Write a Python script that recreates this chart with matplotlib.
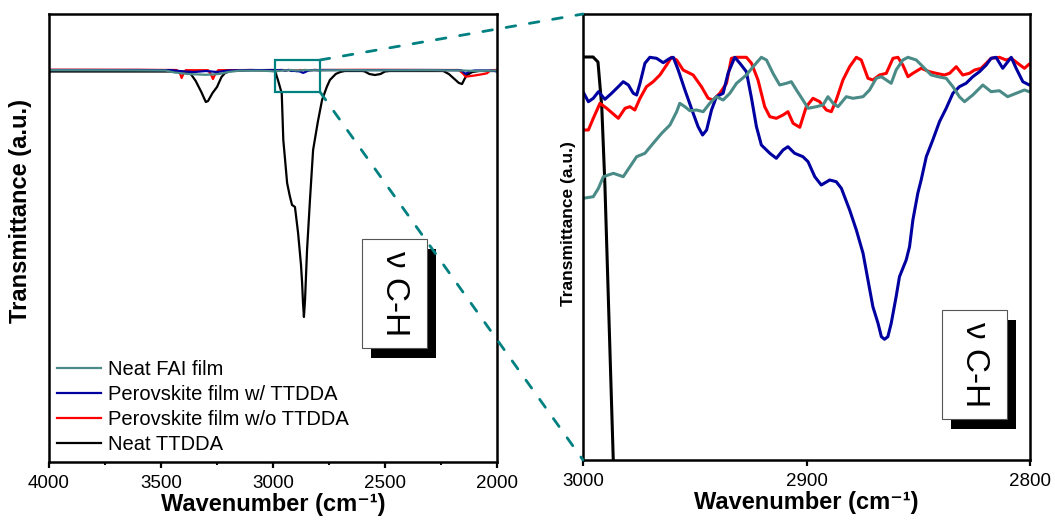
import numpy as np
import matplotlib
matplotlib.use('Agg')
import matplotlib.pyplot as plt
from matplotlib.patches import Rectangle, ConnectionPatch

plt.rcParams['font.family'] = ['Liberation Sans', 'DejaVu Sans']

# ---- data (wavenumber in cm-1, transmittance in arbitrary units) ----
# detailed points in the 3000-2800 window, sparse elsewhere
fai_wn = [4000, 3700, 3480, 3440, 3380, 3300, 3240, 3200, 3150, 3050, 3010,
          3000.0, 2995.4, 2993.1, 2990.9, 2986.4, 2982.0, 2979.0, 2976.0, 2972.3, 2968.6,
          2964.8, 2961.1, 2958.1, 2956.7, 2954.4, 2952.2, 2949.2, 2946.2, 2943.3, 2940.3,
          2937.3, 2934.3, 2931.3, 2926.9, 2923.9, 2920.2, 2917.9, 2915.0, 2912.0, 2909.0,
          2906.8, 2904.5, 2901.6, 2899.3, 2895.6, 2892.6, 2890.4, 2888.1, 2885.9, 2882.2,
          2879.2, 2874.7, 2871.8, 2868.8, 2866.5, 2864.3, 2862.1, 2859.9, 2856.9, 2854.6,
          2850.9, 2847.9, 2844.2, 2841.2, 2837.5, 2834.5, 2831.6, 2829.3, 2825.6, 2821.1,
          2817.4, 2813.7, 2810.0, 2806.2, 2802.5, 2800.3,
          2780, 2700, 2500, 2300, 2150, 2100, 2000]
fai_t = [380, 370, 350, 150, 0, -80, 0, 200, 330, 330, 290,
         261.7, 263.3, 271.7, 283.3, 286.7, 283.3, 293.3, 303.3, 306.7, 316.7,
         326.7, 335.0, 348.3, 356.7, 353.3, 349.3, 350.0, 348.3, 356.7, 363.3,
         360.0, 366.7, 376.7, 385.0, 393.3, 402.7, 400.0, 386.7, 375.0, 376.7,
         378.3, 370.0, 360.0, 351.7, 353.3, 355.0, 363.3, 356.7, 353.3, 363.3,
         361.7, 363.3, 370.0, 381.7, 383.3, 380.0, 376.7, 390.0, 400.0, 402.7,
         400.0, 393.3, 385.0, 383.3, 381.7, 373.3, 363.3, 358.3, 365.0, 375.0,
         368.3, 369.3, 363.3, 366.7, 370.0, 368.3,
         360, 380, 370, 380, 350, 300, 350]

with_wn = [4000, 3600, 3450, 3400, 3350, 3300, 3250, 3200, 3100, 3010,
           3000.0, 2997.6, 2995.4, 2993.1, 2990.2, 2987.2, 2984.2, 2982.0, 2979.7, 2977.5,
           2976.0, 2974.5, 2972.3, 2970.1, 2967.1, 2964.1, 2961.1, 2959.6, 2957.4, 2954.4,
           2950.7, 2948.5, 2946.5, 2944.7, 2942.5, 2940.3, 2937.3, 2935.1, 2932.1, 2929.8,
           2926.9, 2924.6, 2922.4, 2920.2, 2916.4, 2913.5, 2910.5, 2908.3, 2905.3, 2901.6,
           2899.3, 2896.3, 2893.4, 2889.6, 2886.7, 2884.4, 2880.7, 2877.7, 2874.7, 2872.5,
           2870.3, 2868.0, 2866.5, 2865.1, 2863.6, 2862.1, 2859.9, 2858.4, 2855.4, 2853.9,
           2852.4, 2850.2, 2848.7, 2846.4, 2843.5, 2840.5, 2837.5, 2834.5, 2831.6, 2828.6,
           2825.6, 2822.6, 2819.6, 2817.4, 2815.2, 2812.2, 2808.4, 2806.2, 2803.2, 2800.3,
           2780, 2600, 2300, 2160, 2140, 2125, 2100, 2020, 2000]
with_t = [400, 400, 380, 250, 200, 300, 200, 350, 400, 380,
          368.3, 358.3, 361.7, 368.3, 360.7, 366.7, 373.3, 378.3, 375.0, 366.7,
          365.0, 376.7, 396.7, 402.7, 401.7, 397.3, 401.7, 402.7, 390.0, 370.0,
          346.7, 333.3, 325.0, 330.0, 350.0, 363.3, 366.7, 386.7, 402.7, 396.7,
          388.3, 361.7, 333.3, 315.0, 306.7, 301.7, 310.0, 313.3, 306.7, 303.3,
          298.3, 283.3, 275.0, 280.0, 278.3, 271.7, 250.0, 230.0, 206.7, 180.0,
          153.3, 136.7, 123.3, 120.7, 123.3, 136.7, 163.3, 183.3, 200.0, 213.3,
          240.0, 266.7, 280.0, 303.3, 320.0, 338.3, 351.7, 366.7, 373.3, 376.7,
          383.3, 388.3, 395.0, 401.7, 402.7, 391.7, 402.7, 391.7, 378.3, 375.0,
          400, 390, 400, 380, 0, 250, 350, 350, 250]

without_wn = [4000, 3600, 3430, 3415, 3408, 3400, 3390, 3290, 3278, 3268, 3258, 3245, 3100, 3010,
              3000.0, 2997.6, 2995.4, 2992.4, 2989.4, 2984.2, 2981.2, 2979.0, 2976.8, 2974.5,
              2971.6, 2968.6, 2965.6, 2962.6, 2960.4, 2958.1, 2955.2, 2950.7, 2947.0, 2944.0,
              2941.8, 2938.8, 2935.8, 2933.6, 2931.3, 2926.9, 2924.6, 2921.7, 2918.7, 2916.4,
              2913.5, 2910.5, 2908.3, 2906.0, 2903.0, 2900.1, 2897.1, 2894.1, 2891.1, 2888.9,
              2886.7, 2883.7, 2880.7, 2877.7, 2875.5, 2872.5, 2870.3, 2867.3, 2864.3, 2861.3,
              2859.1, 2856.9, 2854.6, 2852.4, 2848.7, 2845.0, 2842.0, 2838.3, 2836.0, 2833.0,
              2830.1, 2827.1, 2824.8, 2821.9, 2819.6, 2817.4, 2813.7, 2810.7, 2808.4, 2805.5,
              2802.5, 2800.3,
              2780, 2600, 2300, 2170, 2150, 2140, 2100, 2060, 2045, 2030, 2000]
without_t = [430, 420, 400, 50, -400, 0, 380, 380, 0, -500, 0, 380, 400, 350,
             330.0, 330.0, 341.7, 356.7, 351.7, 341.7, 351.7, 353.3, 350.0, 361.7,
             373.3, 378.3, 385.0, 395.0, 402.7, 400.0, 390.0, 385.0, 373.3, 361.7,
             360.0, 366.7, 376.7, 401.7, 402.7, 402.7, 396.7, 380.0, 353.3, 343.3,
             341.7, 345.0, 348.3, 336.7, 332.7, 353.3, 361.7, 358.3, 350.0, 348.3,
             360.0, 380.0, 393.3, 402.7, 400.0, 381.7, 380.0, 385.0, 386.7, 401.7,
             402.7, 395.0, 383.3, 386.7, 391.7, 388.3, 386.7, 385.0, 386.7, 393.3,
             385.0, 386.7, 390.0, 391.7, 396.7, 401.7, 402.7, 400.0, 401.7, 396.7,
             391.7, 396.0,
             400, 420, 400, 400, 0, -270, -150, 0, 70, 350, 420]

ttdda_wn = [4000, 3400, 3370, 3345, 3320, 3300, 3290, 3270, 3250, 3230, 3214, 3190, 3100,
            3000, 2995.5, 2993.3, 2991.6, 2990.2, 2986.5, 2983, 2978, 2961, 2954, 2946,
            2937, 2925, 2915, 2908, 2902, 2888, 2875, 2870, 2866, 2862, 2857, 2848, 2835,
            2821, 2800, 2781, 2760, 2746, 2720, 2700, 2680, 2600, 2590, 2570, 2545, 2520,
            2500, 2480, 2240, 2215, 2190, 2170, 2156, 2145, 2134, 2110, 2080, 2000]
ttdda_t = [250, 250, 100, -700, -1800, -2800, -2700, -1900, -1300, -300, 100, 300, 380,
           403, 403, 398, 353, 275, 3, -250, -600, -1930, -6600, -8600,
           -10900, -12200, -13100, -13200, -13300, -15900, -19100, -20900, -22900, -24300,
           -22600, -17600, -12600,
           -7600, -4800, -2600, -1300, -600, 0, 200, 300, 300, 250, 0, -100, 0,
           250, 300, 300, 0, -500, -900, -1000, -500, -100, 200, 300, 300]

labels = ['Neat FAI film', 'Perovskite film w/ TTDDA', 'Perovskite film w/o TTDDA', 'Neat TTDDA']
colors = ['#4b8b87', '#0000a0', '#ff0000', '#000000']
series = [(fai_wn, fai_t), (with_wn, with_t), (without_wn, without_t), (ttdda_wn, ttdda_t)]

teal = '#008080'

fig = plt.figure(figsize=(10.55, 5.23), dpi=100)
ax1 = fig.add_axes([49/1055, 61/523, 448/1055, 448/523])
ax2 = fig.add_axes([583/1055, 63/523, 447/1055, 446/523])

# draw order: black at the back, teal on top
order = [3, 2, 1, 0]
for i in order:
    wn, t = series[i]
    ax1.plot(wn, t, color=colors[i], lw=1.6, label=labels[i])
    ax2.plot(wn, t, color=colors[i], lw=2.2)

ax1.set_xlim(4000, 2000)
ax1.set_ylim(-38800, 6000)
ax2.set_xlim(3000, 2800)
ax2.set_ylim(0, 446)

ax1.set_xticks([4000, 3500, 3000, 2500, 2000])
ax1.set_xticks(np.arange(2000, 4001, 250), minor=True)
ax2.set_xticks([3000, 2900, 2800])

for ax in (ax1, ax2):
    ax.set_yticks([])
    for sp in ax.spines.values():
        sp.set_linewidth(1.8)
    ax.tick_params(axis='x', which='major', direction='out', length=4, width=1.6,
                   labelsize=13.5, pad=5)
    ax.tick_params(axis='x', which='minor', direction='out', length=2.5, width=1.4)
    ax.set_xlabel('Wavenumber (cm⁻¹)', fontsize=17, fontweight='bold', labelpad=1)

ax1.set_ylabel('Transmittance (a.u.)', fontsize=17, fontweight='bold')
ax1.yaxis.set_label_coords(-0.038, 0.56)
ax2.set_ylabel('Transmittance (a.u.)', fontsize=12.5, fontweight='bold')
ax2.yaxis.set_label_coords(-0.016, 0.53)

# legend in the fixed label order
handles, labs = ax1.get_legend_handles_labels()
hmap = dict(zip(labs, handles))
ax1.legend([hmap[l] for l in labels], labels, loc='lower left', frameon=False,
           fontsize=14.5, handlelength=2.2, handletextpad=0.35, labelspacing=0.3,
           borderaxespad=0.2, borderpad=0.2)

# zoom window and connectors
ax1.add_patch(Rectangle((2990, -1800), -200, 3200, fill=False, edgecolor=teal, lw=1.6,
                        zorder=5))
for ya, yb in [(1400, 1), (-1800, 0)]:
    con = ConnectionPatch(xyA=(2790, ya), coordsA='data', axesA=ax1,
                          xyB=(0, yb), coordsB='axes fraction', axesB=ax2,
                          color=teal, lw=2, linestyle=(0, (3.5, 5)))
    fig.add_artist(con)

# "v C-H" labels with drop shadow
def shadow_box(ax, x0, y0, w, h, dx, dy):
    ax.add_patch(Rectangle((x0 + dx, y0 - dy), w, h, transform=ax.transAxes,
                           facecolor='black', edgecolor='none', zorder=6, clip_on=False))
    ax.add_patch(Rectangle((x0, y0), w, h, transform=ax.transAxes, facecolor='white',
                           edgecolor='#555555', lw=0.8, zorder=7, clip_on=False))
    ax.text(x0 + w / 2, y0 + h / 2, 'ν C-H', transform=ax.transAxes, rotation=-90,
            ha='center', va='center', fontsize=24, zorder=8)

shadow_box(ax1, 0.699, 0.254, 0.145, 0.244, 0.020, 0.022)
shadow_box(ax2, 0.803, 0.092, 0.146, 0.244, 0.020, 0.022)

fig.savefig('out.png', dpi=100)
